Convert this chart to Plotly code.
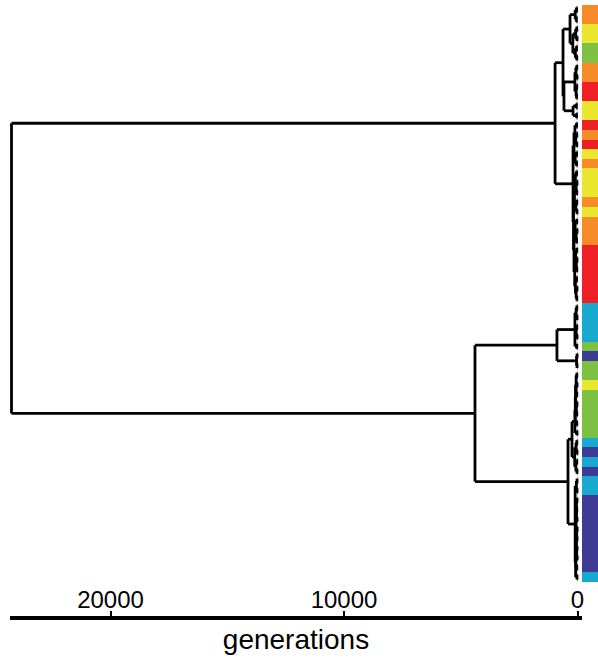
import plotly.graph_objects as go

# Colour groups of the tips, listed top to bottom as (group, number of tips)
GROUP_COLORS = {
    "orange": "#F68B28",
    "yellow": "#EBE62E",
    "green": "#7CC143",
    "red": "#EE1F26",
    "cyan": "#17A9CF",
    "indigo": "#3F3A96",
}
SEGMENT_GROUPS = [
    "orange", "yellow", "green", "orange", "red", "yellow", "red", "orange",
    "red", "yellow", "orange", "yellow", "orange", "yellow", "orange", "red",
    "cyan", "green", "indigo", "green", "yellow", "green", "cyan", "indigo",
    "cyan", "indigo", "cyan", "indigo", "cyan",
]
SEGMENT_SIZES = [
    4, 4, 4, 4, 4, 4, 2, 2,
    2, 2, 2, 6, 2, 2, 6, 12,
    8, 2, 2, 4, 2, 10, 2, 2,
    2, 2, 4, 16, 2,
]

# Clades as (first tip, last tip, age in generations)
CLADES = [
    (0, 119, 24240),
    # upper clade
    (0, 61, 960),
    (0, 23, 620),
    (0, 11, 320), (0, 3, 100), (0, 1, 40), (2, 3, 50),
    (4, 11, 200), (4, 7, 80), (4, 5, 30), (6, 7, 20),
    (8, 11, 90), (8, 9, 40), (10, 11, 30),
    (12, 23, 580),
    (12, 19, 110), (12, 15, 70), (12, 13, 30), (14, 15, 20),
    (16, 19, 60), (16, 17, 30), (18, 19, 40),
    (20, 23, 190), (20, 21, 50), (22, 23, 40),
    (24, 61, 190),
    (24, 33, 150),
    (24, 29, 110), (24, 25, 40), (26, 29, 80), (26, 27, 30), (28, 29, 30),
    (30, 33, 100), (30, 31, 40), (32, 33, 40),
    (34, 61, 170),
    (34, 43, 130), (34, 39, 90), (34, 35, 40), (36, 39, 60), (36, 37, 20),
    (38, 39, 30), (40, 43, 70), (40, 41, 30), (42, 43, 20),
    (44, 61, 150), (44, 49, 100), (44, 45, 30), (46, 49, 60), (46, 47, 20),
    (48, 49, 40),
    (50, 61, 120), (50, 55, 80), (50, 51, 30), (52, 55, 50), (52, 53, 20),
    (54, 55, 30), (56, 61, 90), (56, 57, 40), (58, 61, 60), (58, 59, 20),
    (60, 61, 30),
    # lower clade
    (62, 119, 4390),
    (62, 75, 880),
    (62, 71, 110), (62, 65, 60), (62, 63, 30), (64, 65, 20),
    (66, 69, 60), (66, 67, 30), (68, 69, 20), (70, 71, 30),
    (72, 75, 40), (72, 73, 20), (74, 75, 20),
    (76, 119, 407),
    (76, 97, 235),
    (76, 89, 110), (76, 87, 95), (76, 85, 85), (76, 81, 60), (76, 77, 30),
    (78, 79, 20), (80, 81, 30), (82, 85, 50), (82, 83, 20), (84, 85, 30),
    (86, 87, 30), (88, 89, 20),
    (90, 97, 120), (90, 93, 60), (90, 91, 30), (92, 93, 20),
    (94, 97, 70), (94, 95, 30), (96, 97, 20),
    (98, 119, 100),
    (98, 101, 50), (98, 99, 20), (100, 101, 20),
    (102, 119, 80), (102, 117, 70), (102, 115, 65),
    (102, 107, 45), (102, 103, 20), (104, 105, 30), (106, 107, 20),
    (108, 115, 50), (108, 111, 35), (108, 109, 15), (110, 111, 20),
    (112, 115, 35), (112, 113, 20), (114, 115, 15),
    (116, 117, 30), (118, 119, 20),
]

TICK_VALUES = [20000, 10000, 0]
AXIS_TITLE = "generations"

# ---- tip colours ----
tip_colors = []
for g, n in zip(SEGMENT_GROUPS, SEGMENT_SIZES):
    tip_colors += [GROUP_COLORS[g]] * n
n_tips = len(tip_colors)

# ---- tree layout ----
clades = sorted(set(CLADES), key=lambda c: (c[1] - c[0]), reverse=True)


def contains(outer, inner):
    return outer[0] <= inner[0] and inner[1] <= outer[1] and outer != inner


children = {c: [] for c in clades}
for c in clades:
    parents = [p for p in clades if contains(p, c)]
    if parents:
        parent = min(parents, key=lambda p: p[1] - p[0])
        children[parent].append(("clade", c))
for c in clades:
    covered = set()
    for _, sub in children[c]:
        covered.update(range(sub[0], sub[1] + 1))
    for t in range(c[0], c[1] + 1):
        if t not in covered:
            children[c].append(("tip", t))
    children[c].sort(key=lambda k: k[1][0] if k[0] == "clade" else k[1])

ypos = {}


def node_y(kind, item):
    if kind == "tip":
        return float(item)
    if item in ypos:
        return ypos[item]
    ys = [node_y(k, v) for k, v in children[item]]
    ypos[item] = (ys[0] + ys[-1]) / 2.0
    return ypos[item]


xs, ys = [], []
for c in clades:
    age = c[2]
    cy = [node_y(k, v) for k, v in children[c]]
    xs += [age, age, None]
    ys += [cy[0], cy[-1], None]
    for (k, v), y in zip(children[c], cy):
        child_age = 0 if k == "tip" else v[2]
        xs += [age, child_age, None]
        ys += [y, y, None]

fig = go.Figure()
fig.add_trace(go.Scatter(
    x=xs, y=ys, mode="lines",
    line=dict(color="black", width=2.8),
    hoverinfo="skip", showlegend=False,
))
fig.add_trace(go.Bar(
    x=[1] * n_tips, y=list(range(n_tips)), orientation="h",
    width=1.0, marker=dict(color=tip_colors, line=dict(width=0)),
    xaxis="x2", yaxis="y", hoverinfo="skip", showlegend=False,
))

W, H = 598, 660
ml, mr, mt, mb = 10, 0, 5, 44
plot_w = W - ml - mr
plot_h = H - mt - mb
tip_h = 577.0 / n_tips
strip_left = 582
x_dom_end = (strip_left - ml) / plot_w

# generations per pixel along the time axis
px_per_gen = 233.5 / 10000.0
zero_px = 577.5
x_left = (zero_px - ml) / px_per_gen
x_right = -(strip_left - zero_px) / px_per_gen

fig.update_layout(
    width=W, height=H,
    margin=dict(l=ml, r=mr, t=mt, b=mb),
    paper_bgcolor="white", plot_bgcolor="white",
    bargap=0,
    font=dict(family="Liberation Sans, Arial, sans-serif", color="black"),
    xaxis=dict(
        domain=[0, x_dom_end],
        range=[x_left, x_right],
        tickmode="array", tickvals=TICK_VALUES,
        ticktext=[str(v) for v in TICK_VALUES],
        ticks="inside", ticklen=5, tickwidth=2, tickcolor="black",
        ticklabelposition="inside",
        ticklabeloverflow="allow",
        tickfont=dict(size=24, color="black"),
        showline=True, linecolor="black", linewidth=4,
        showgrid=False, zeroline=False,
        title=dict(text=AXIS_TITLE, font=dict(size=28, color="black"), standoff=18),
        automargin=False,
        fixedrange=True,
    ),
    xaxis2=dict(
        domain=[x_dom_end, 1], range=[0, 1], anchor="y",
        visible=False, fixedrange=True,
    ),
    yaxis=dict(
        range=[-0.5 + plot_h / tip_h, -0.5],
        visible=False, fixedrange=True,
    ),
)

fig.write_html("out.html")
